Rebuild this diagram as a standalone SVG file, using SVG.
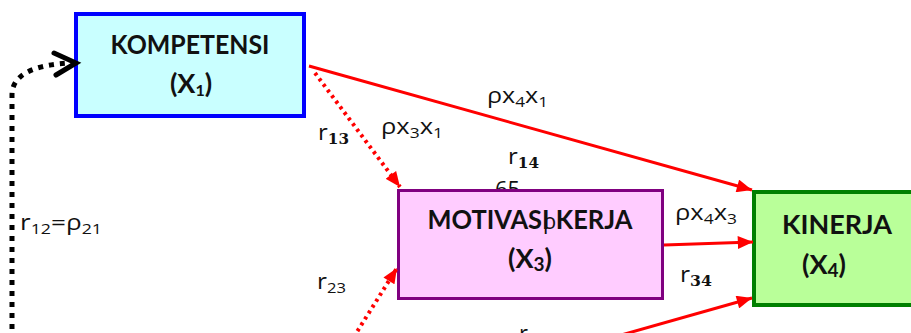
<svg xmlns="http://www.w3.org/2000/svg" width="911" height="333" viewBox="0 0 911 333">
<style>
.t{font-family:"Open Sans","Liberation Sans",sans-serif;font-size:22px;fill:#111}
.s{font-size:15px}
.sb{font-family:"DejaVu Serif","Liberation Serif",serif;font-weight:bold;font-size:14px}
.b{font-family:Lato,"Liberation Sans",sans-serif;font-weight:bold;font-size:27px;fill:#111;text-anchor:middle}
.red{stroke:#ff0000;stroke-width:3;fill:none}
.dot{stroke:#ff0000;stroke-width:4;fill:none;stroke-dasharray:3 4}
</style>
<defs>
<marker id="ah" viewBox="0 0 14 12" refX="14" refY="6" markerWidth="16" markerHeight="13" markerUnits="userSpaceOnUse" orient="auto">
<path d="M0,0 L14,6 L0,12 Z" fill="#ff0000"/>
</marker>
</defs>
<g id="labels-behind">
<text class="t" x="495" y="197" font-size="24">65</text>
</g>
<g id="kompetensi">
<rect x="76" y="14" width="228" height="102" fill="#c9ffff" stroke="#0000ff" stroke-width="4"/>
<text class="b" x="190" y="54" textLength="159" lengthAdjust="spacingAndGlyphs">KOMPETENSI</text>
<text class="b" x="191" y="93">(X<tspan font-size="16" dy="3">1</tspan><tspan dy="-3">)</tspan></text>
</g>
<g id="motivasi">
<rect x="398.5" y="190.5" width="264" height="108" fill="#ffccff" stroke="#800080" stroke-width="3"/>
<text class="b" x="530" y="229" textLength="205" lengthAdjust="spacingAndGlyphs">MOTIVASI KERJA</text>
<text class="t" x="543" y="229">ρ</text>
<text class="b" x="530" y="268">(X<tspan font-size="19" dy="3">3</tspan><tspan dy="-3">)</tspan></text>
</g>
<g id="kinerja">
<rect x="754" y="192" width="170" height="113" fill="#b9ff99" stroke="#008000" stroke-width="4"/>
<text class="b" x="837" y="234" textLength="110" lengthAdjust="spacingAndGlyphs">KINERJA</text>
<text class="b" x="824" y="274">(X<tspan font-size="19" dy="3">4</tspan><tspan dy="-3">)</tspan></text>
</g>
<g id="connectors">
<line class="red" x1="309" y1="66" x2="752" y2="190" marker-end="url(#ah)"/>
<line class="dot" x1="315" y1="73" x2="400" y2="187" marker-end="url(#ah)"/>
<line class="red" x1="664" y1="245" x2="753" y2="242" marker-end="url(#ah)"/>
<line class="red" x1="600" y1="341" x2="752" y2="298" marker-end="url(#ah)"/>
<line class="dot" x1="350" y1="343" x2="397" y2="268" marker-end="url(#ah)"/>
<path d="M12,340 L12,95 Q12,66 70,63" fill="none" stroke="#000" stroke-width="5" stroke-dasharray="5 6"/>
<path d="M54,53 L76,63 L56,75" fill="none" stroke="#000" stroke-width="5" stroke-linecap="round" stroke-linejoin="miter"/>
</g>
<g id="labels">
<text class="t" x="487" y="103" textLength="61" lengthAdjust="spacingAndGlyphs">ρx<tspan class="s" dy="4">4</tspan><tspan dy="-4">x</tspan><tspan class="s" dy="4">1</tspan></text>
<text class="t" x="381" y="134" textLength="62" lengthAdjust="spacingAndGlyphs">ρx<tspan class="s" dy="4">3</tspan><tspan dy="-4">x</tspan><tspan class="s" dy="4">1</tspan></text>
<text class="t" x="318" y="140" textLength="31" lengthAdjust="spacingAndGlyphs">r<tspan class="sb" dy="4">13</tspan></text>
<text class="t" x="508" y="164" textLength="31" lengthAdjust="spacingAndGlyphs">r<tspan class="sb" dy="4">14</tspan></text>
<text class="t" x="675" y="220" textLength="62" lengthAdjust="spacingAndGlyphs">ρx<tspan class="s" dy="4">4</tspan><tspan dy="-4">x</tspan><tspan class="s" dy="4">3</tspan></text>
<text class="t" x="680" y="282" textLength="32" lengthAdjust="spacingAndGlyphs">r<tspan class="sb" dy="4">34</tspan></text>
<text class="t" x="20" y="230" textLength="82" lengthAdjust="spacingAndGlyphs">r<tspan class="s" dy="4">12</tspan><tspan dy="-4">=ρ</tspan><tspan class="s" dy="4">21</tspan></text>
<text class="t" x="317" y="289" textLength="29" lengthAdjust="spacingAndGlyphs">r<tspan class="s" dy="4">23</tspan></text>
<text class="t" x="519" y="341">r<tspan class="s" dy="4">24</tspan></text>
</g>
</svg>
